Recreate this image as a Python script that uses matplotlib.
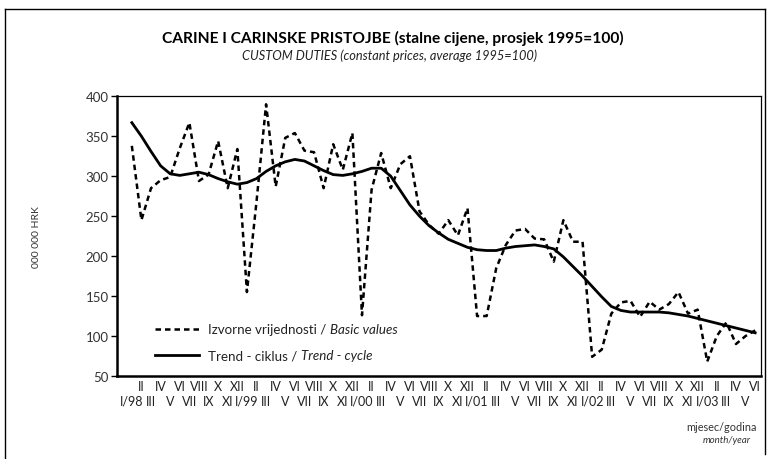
import matplotlib
matplotlib.use('Agg')
import matplotlib.pyplot as plt
from matplotlib.lines import Line2D

plt.rcParams['font.family'] = ['Lato', 'DejaVu Sans']

# Months I/98 .. VI/03
roman = ['I', 'II', 'III', 'IV', 'V', 'VI', 'VII', 'VIII', 'IX', 'X', 'XI', 'XII']
years = ['98', '99', '00', '01', '02', '03']

# Izvorne vrijednosti / Basic values
basic = [338, 245, 285, 295, 299, 335, 367, 294, 302, 344, 285, 334,
         155, 268, 390, 287, 348, 354, 332, 330, 285, 340, 308, 354,
         126, 283, 329, 285, 315, 325, 256, 239, 228, 245, 226, 260,
         125, 125, 185, 214, 232, 234, 222, 221, 193, 245, 218, 218,
         74, 83, 128, 142, 144, 124, 143, 133, 140, 155, 128, 133,
         68, 100, 117, 90, 100, 107]

# Trend - ciklus / Trend - cycle
trend = [367, 350, 331, 313, 303, 301, 303, 305, 302, 297, 293, 290,
         292, 297, 306, 313, 318, 321, 319, 313, 307, 302, 301, 303,
         306, 310, 310, 300, 282, 264, 250, 238, 229, 221, 216, 211,
         208, 207, 207, 210, 212, 213, 214, 212, 209, 199, 187, 175,
         162, 149, 137, 132, 130, 130, 130, 130, 129, 127, 125, 122,
         119, 116, 113, 110, 107, 104]

n = len(basic)
xs = list(range(n))
xlabels = []
for i in xs:
    m = i % 12
    name = roman[m]
    if m == 0:
        name = name + '/' + years[i // 12]
    if m % 2 == 0:
        name = '\n' + name
    xlabels.append(name)

fig = plt.figure(figsize=(7.68, 4.6), dpi=100)
ax = fig.add_axes([0.1523, 0.1805, 0.8385, 0.608])

ax.plot(xs, basic, color='black', lw=1.8, linestyle=(0, (2.2, 1.6)),
        label='Izvorne vrijednosti / ')
ax.plot(xs, trend, color='black', lw=2.0, label='Trend - ciklus / ')

ax.set_xlim(-1.55, n - 0.4)
ax.set_ylim(50, 400)
ax.set_yticks(range(50, 401, 50))
ax.set_xticks(xs)
ax.set_xticklabels(xlabels, fontsize=9, color='#222222', linespacing=1.25)
ax.tick_params(axis='x', length=0, pad=3)
ax.tick_params(axis='y', length=4, width=1, labelsize=9.5, labelcolor='#333333', pad=2)

for side in ['left', 'bottom']:
    ax.spines[side].set_linewidth(1.8)
for side in ['top', 'right']:
    ax.spines[side].set_linewidth(0.9)

ax.set_ylabel('000 000 HRK', fontsize=7.5, color='#333333', labelpad=32)

leg = ax.legend(loc='lower left', bbox_to_anchor=(0.04, 0.01), frameon=False,
                fontsize=9.6, handlelength=3.3, handletextpad=0.7,
                labelspacing=1.05)
ital = ['Basic values', 'Trend - cycle']
fig.canvas.draw()
for txt, extra in zip(leg.get_texts(), ital):
    txt.set_color('#222222')
    ax.annotate(extra, xy=(1, 0), xycoords=txt, va='bottom', ha='left',
                fontsize=9.6, style='italic', color='#222222')

fig.text(0.512, 0.916, 'CARINE I CARINSKE PRISTOJBE (stalne cijene, prosjek 1995=100)',
         ha='center', va='center', fontsize=11.2, fontweight='bold')
fig.text(0.507, 0.879, 'CUSTOM DUTIES (constant prices, average 1995=100)',
         ha='center', va='center', fontsize=9.2, style='italic', color='#222222')

fig.text(0.986, 0.070, 'mjesec/godina', ha='right', va='center', fontsize=7.8, color='#333333')
fig.text(0.978, 0.042, 'month/year', ha='right', va='center', fontsize=7,
         style='italic', color='#333333')

# outer frame
fig.add_artist(Line2D([0.007, 0.007], [0.0, 0.978], color='black', lw=1.0))
fig.add_artist(Line2D([0.007, 0.996], [0.978, 0.978], color='black', lw=1.0))
fig.add_artist(Line2D([0.996, 0.996], [0.01, 0.978], color='black', lw=1.0))

fig.savefig('out.png', dpi=100)
